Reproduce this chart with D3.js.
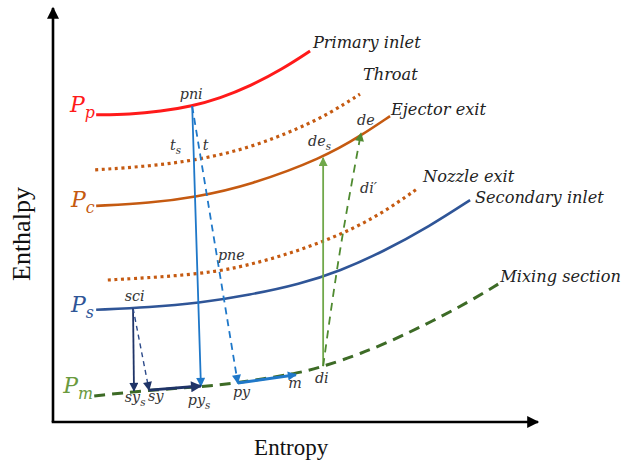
<!DOCTYPE html>
<html>
<head>
<meta charset="utf-8">
<script src="https://cdn.jsdelivr.net/npm/d3@7"></script>
<style>
  html, body { margin: 0; padding: 0; background: #fff; }
  svg { display: block; }
</style>
</head>
<body>
<svg id="chart" width="622" height="467"></svg>
<script>
// Enthalpy–entropy (h–s) process diagram of an ejector.
// Abstract units: entropy s on x, enthalpy h on y, both 0–10.

// Isobar curves, sampled as [s, h]
const primaryInlet   = [[0.89,7.42],[1.59,7.43],[2.21,7.50],[2.87,7.63],[3.44,7.82],[4.06,8.11],[4.74,8.53],[5.30,8.96]];
const throat         = [[0.87,6.09],[2.00,6.18],[2.99,6.33],[4.06,6.62],[5.09,7.10],[5.71,7.46],[6.33,7.92]];
const ejectorExit    = [[0.89,5.22],[2.00,5.29],[2.93,5.43],[4.06,5.72],[5.57,6.38],[6.37,6.93],[6.95,7.39]];
const nozzleExit     = [[1.13,3.43],[2.21,3.50],[3.38,3.62],[4.27,3.86],[5.09,4.15],[5.92,4.52],[6.74,5.00],[7.53,5.65]];
const secondaryInlet = [[0.89,2.71],[2.00,2.77],[2.99,2.87],[4.06,3.07],[5.09,3.33],[5.92,3.65],[6.80,4.11],[7.77,4.73],[8.60,5.36]];
const mixingSection  = [[0.85,0.63],[1.98,0.77],[3.05,0.85],[3.79,0.94],[5.09,1.18],[5.59,1.35],[6.33,1.64],[7.16,2.05],[8.39,2.77],[9.22,3.36]];

// Curve names and the pressure symbols at their left ends
const curveNames = ["Primary inlet", "Throat", "Ejector exit", "Nozzle exit", "Secondary inlet", "Mixing section"];
const pressureSymbols = ["P_p", "P_c", "P_s", "P_m"];

// State points [name, s, h]
const stateNames  = ["pni", "pys", "py", "m", "sci", "sys", "sy", "di", "des", "de"];
const stateS      = [2.87, 3.05, 3.81, 5.01, 1.65, 1.67, 1.98, 5.57, 5.57, 6.35];
const stateH      = [7.63, 0.87, 0.94, 1.14, 2.75, 0.75, 0.77, 1.35, 6.38, 6.98];

// Processes between states: [from, to, (optional mid-point s, h)]
const processes = [
  ["pni", "pys"], ["pni", "py"], ["py", "m"],
  ["sci", "sys"], ["sci", "sy"], ["sy", "pys"],
  ["di", "des"], ["di", "de", 5.92, 4.15]
];

// Point labels (text, with optional subscript)
const pointLabels = ["pni", "t_s", "t", "de_s", "de", "di′", "pne", "sci", "sy_s", "sy", "py_s", "py", "m", "di"];

// ---------------------------------------------------------------
const svg = d3.select("#chart");
const x = d3.scaleLinear().domain([0, 10]).range([53, 538]);
const y = d3.scaleLinear().domain([0, 10]).range([422, 8]);

const COLORS = {
  red: "#ff1a1a", orange: "#c55a11", blue: "#2f5597", green: "#3d6b26",
  greenLabel: "#6a9a3e", light: "#1f78c9", navy: "#1f3468", arrowGreen: "#70a84a",
  text: "#333333"
};

const defs = svg.append("defs");
function marker(id, color, w, h) {
  defs.append("marker")
    .attr("id", id).attr("viewBox", "0 0 10 10")
    .attr("refX", 9).attr("refY", 5)
    .attr("markerUnits", "userSpaceOnUse")
    .attr("markerWidth", w).attr("markerHeight", h)
    .attr("orient", "auto")
    .append("path").attr("d", "M0,0 L10,5 L0,10 Z").attr("fill", color);
}
marker("arrAxis", "#000", 14, 12);
marker("arrLight", COLORS.light, 10, 9);
marker("arrNavy", COLORS.navy, 10, 9);
marker("arrNavyBig", COLORS.navy, 12, 11);
marker("arrGreen", COLORS.arrowGreen, 10, 9);
marker("arrGreenD", "#4f8a30", 10, 9);

// Axes
svg.append("line")
  .attr("x1", x(0)).attr("y1", y(0)).attr("x2", x(0)).attr("y2", y(10))
  .attr("stroke", "#000").attr("stroke-width", 2.6).attr("marker-end", "url(#arrAxis)");
svg.append("line")
  .attr("x1", x(0) - 1.3).attr("y1", y(0)).attr("x2", x(10)).attr("y2", y(0))
  .attr("stroke", "#000").attr("stroke-width", 2.6).attr("marker-end", "url(#arrAxis)");

svg.append("text")
  .attr("transform", `translate(${x(0) - 23},${y(4.54)}) rotate(-90)`)
  .attr("text-anchor", "middle")
  .attr("font-family", "Liberation Serif, Times New Roman, serif")
  .attr("font-size", 26).attr("fill", "#111")
  .text("Enthalpy");
svg.append("text")
  .attr("x", x(4.91)).attr("y", 455)
  .attr("text-anchor", "middle")
  .attr("font-family", "Liberation Serif, Times New Roman, serif")
  .attr("font-size", 23).attr("fill", "#111")
  .text("Entropy");

// Isobars
const line = d3.line().x(d => x(d[0])).y(d => y(d[1])).curve(d3.curveBasis);
const curves = [
  { data: primaryInlet,   stroke: COLORS.red,    width: 3,   dash: null },
  { data: throat,         stroke: COLORS.orange, width: 3.2, dash: "3,3.6" },
  { data: ejectorExit,    stroke: COLORS.orange, width: 2.6, dash: null },
  { data: nozzleExit,     stroke: COLORS.orange, width: 3.2, dash: "3,3.6" },
  { data: secondaryInlet, stroke: COLORS.blue,   width: 2.6, dash: null },
  { data: mixingSection,  stroke: COLORS.green,  width: 3,   dash: "11,7" }
];
svg.append("g").selectAll("path").data(curves).join("path")
  .attr("d", d => line(d.data))
  .attr("fill", "none")
  .attr("stroke", d => d.stroke)
  .attr("stroke-width", d => d.width)
  .attr("stroke-dasharray", d => d.dash);

// Process lines
const state = {};
stateNames.forEach((n, i) => state[n] = [stateS[i], stateH[i]]);
const processStyle = {
  "pni-pys": { stroke: COLORS.light, width: 1.8, dash: null, m: "arrLight" },
  "pni-py":  { stroke: COLORS.light, width: 1.8, dash: "7,5", m: "arrLight" },
  "py-m":    { stroke: COLORS.light, width: 3,   dash: null, m: "arrLight" },
  "sci-sys": { stroke: COLORS.navy,  width: 1.8, dash: null, m: "arrNavy" },
  "sci-sy":  { stroke: "#2c4a8a",    width: 1.4, dash: "5,4", m: "arrNavy" },
  "sy-pys":  { stroke: COLORS.navy,  width: 3,   dash: null, m: "arrNavyBig" },
  "di-des":  { stroke: COLORS.arrowGreen, width: 1.8, dash: null, m: "arrGreen" },
  "di-de":   { stroke: "#4f8a30",    width: 1.8, dash: "8,6", m: "arrGreenD" }
};
const procLine = d3.line().x(d => x(d[0])).y(d => y(d[1])).curve(d3.curveNatural);
svg.append("g").selectAll("path").data(processes).join("path")
  .attr("d", p => {
    const pts = [state[p[0]]];
    if (p.length > 2) pts.push([p[2], p[3]]);
    pts.push(state[p[1]]);
    return procLine(pts);
  })
  .attr("fill", "none")
  .each(function(p) {
    const st = processStyle[p[0] + "-" + p[1]];
    d3.select(this)
      .attr("stroke", st.stroke)
      .attr("stroke-width", st.width)
      .attr("stroke-dasharray", st.dash)
      .attr("marker-end", `url(#${st.m})`);
  });

// Text helpers
const LABEL_FONT = "DejaVu Serif, Liberation Serif, serif";
function subText(g, label, px, py, size, color, anchor) {
  const [main, sub] = label.split("_");
  const t = g.append("text")
    .attr("x", px).attr("y", py)
    .attr("font-family", LABEL_FONT).attr("font-style", "italic")
    .attr("font-size", size).attr("fill", color)
    .attr("text-anchor", anchor || "start");
  t.append("tspan").text(main);
  if (sub) t.append("tspan").attr("dy", size * 0.28).attr("font-size", size * 0.72).text(sub);
  return t;
}

// Curve names
const namePos = [[5.36, 9.03], [6.39, 8.26], [6.97, 7.42], [7.63, 5.80], [8.70, 5.29], [9.22, 3.38]];
const gNames = svg.append("g");
curveNames.forEach((n, i) => {
  gNames.append("text")
    .attr("x", x(namePos[i][0])).attr("y", y(namePos[i][1]))
    .attr("font-family", LABEL_FONT).attr("font-style", "italic")
    .attr("font-size", 16.2).attr("fill", "#222")
    .text(n);
});

// Pressure symbols
const pPos = [[0.35, 7.49], [0.37, 5.19], [0.37, 2.66], [0.21, 0.70]];
const pColor = [COLORS.red, COLORS.orange, COLORS.blue, COLORS.greenLabel];
const gP = svg.append("g");
pressureSymbols.forEach((p, i) => {
  subText(gP, p, x(pPos[i][0]), y(pPos[i][1]), 22, pColor[i]);
});

// Point labels
const labelPos = [
  [2.85, 7.80, "middle"], [2.41, 6.57], [3.09, 6.57], [5.26, 6.67], [6.27, 7.17],
  [6.33, 5.53], [3.40, 3.91], [1.48, 2.92], [1.48, 0.48], [1.96, 0.51],
  [2.78, 0.41], [3.71, 0.60], [4.85, 0.82], [5.40, 0.94]
];
const gL = svg.append("g");
pointLabels.forEach((l, i) => {
  subText(gL, l, x(labelPos[i][0]), y(labelPos[i][1]), 14.3, COLORS.text, labelPos[i][2]);
});
</script>
</body>
</html>
